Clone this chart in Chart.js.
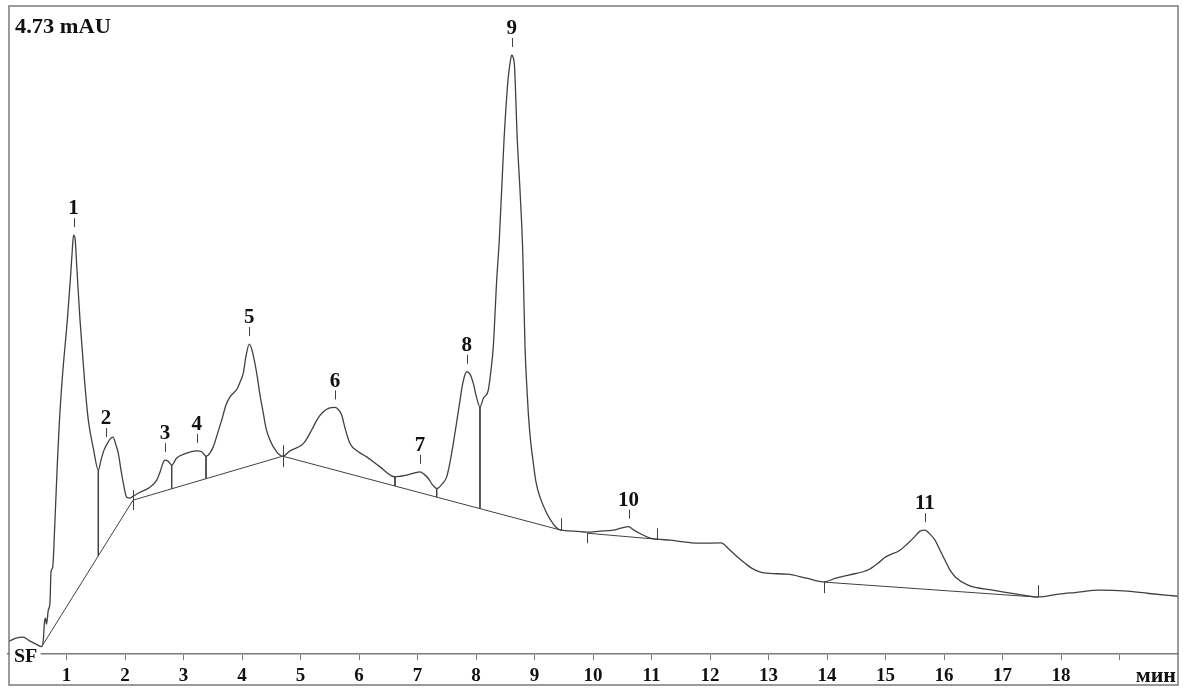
<!DOCTYPE html>
<html>
<head>
<meta charset="utf-8">
<script src="https://cdn.jsdelivr.net/npm/chart.js@4.4.0/dist/chart.umd.min.js"></script>
<style>
  html, body { margin: 0; padding: 0; background: #fff; }
  #wrap { width: 1184px; height: 691px; position: relative; }
</style>
</head>
<body>
<div id="wrap"><canvas id="grafico"></canvas></div>
<script>
// señal del detector: tiempo (min) y absorbancia (mAU)
const tiempos = [
  0.017, 0.137, 0.256, 0.376, 0.479, 0.576, 0.603, 0.624, 0.641, 0.658,
  0.689, 0.718, 0.735, 0.764, 0.803, 0.846, 0.880, 0.932, 1.014, 1.065,
  1.099, 1.120, 1.145, 1.179, 1.231, 1.308, 1.373, 1.458, 1.544, 1.590,
  1.641, 1.692, 1.744, 1.795, 1.846, 1.885, 1.932, 1.971, 2.029, 2.085,
  2.137, 2.256, 2.427, 2.542, 2.598, 2.655, 2.684, 2.735, 2.798, 2.883,
  3.055, 3.226, 3.311, 3.385, 3.509, 3.573, 3.653, 3.726, 3.795, 3.920,
  3.966, 4.022, 4.068, 4.125, 4.171, 4.251, 4.308, 4.364, 4.410, 4.479,
  4.593, 4.696, 4.821, 5.021, 5.094, 5.162, 5.219, 5.299, 5.390, 5.487,
  5.590, 5.641, 5.704, 5.761, 5.846, 5.988, 6.132, 6.359, 6.615, 6.815,
  6.940, 7.043, 7.111, 7.185, 7.248, 7.328, 7.419, 7.499, 7.556, 7.612,
  7.675, 7.727, 7.778, 7.841, 7.897, 7.954, 8.000, 8.068, 8.128, 8.210,
  8.256, 8.295, 8.354, 8.398, 8.479, 8.547, 8.590, 8.610, 8.632, 8.658,
  8.706, 8.752, 8.798, 8.815, 8.838, 8.872, 8.894, 8.932, 8.980, 9.026,
  9.094, 9.209, 9.299, 9.368, 9.453, 9.692, 9.897, 10.120, 10.342, 10.479,
  10.607, 10.701, 10.803, 10.974, 11.094, 11.316, 11.556, 11.829, 12.188, 12.325,
  12.470, 12.598, 12.718, 12.923, 13.316, 13.667, 13.949, 14.154, 14.369, 14.718,
  14.872, 15.003, 15.248, 15.385, 15.496, 15.590, 15.672, 15.761, 15.846, 15.932,
  16.017, 16.103, 16.198, 16.410, 16.832, 17.248, 17.607, 17.957, 18.239, 18.661,
  19.077, 19.504, 20.000
];
const senal = [
  0.095, 0.117, 0.124, 0.095, 0.073, 0.055, 0.102, 0.234, 0.263, 0.219,
  0.321, 0.380, 0.599, 0.635, 0.978, 1.416, 1.708, 2.036, 2.438, 2.730,
  2.949, 3.058, 3.036, 2.803, 2.438, 2.000, 1.708, 1.504, 1.343, 1.416,
  1.489, 1.533, 1.569, 1.584, 1.526, 1.467, 1.343, 1.248, 1.146, 1.139,
  1.153, 1.182, 1.219, 1.270, 1.328, 1.401, 1.416, 1.409, 1.380, 1.431,
  1.467, 1.484, 1.477, 1.445, 1.513, 1.599, 1.708, 1.818, 1.878, 1.939,
  1.985, 2.051, 2.175, 2.263, 2.219, 2.051, 1.891, 1.759, 1.650, 1.562,
  1.477, 1.445, 1.484, 1.526, 1.562, 1.613, 1.659, 1.723, 1.769, 1.796,
  1.801, 1.788, 1.745, 1.650, 1.538, 1.477, 1.440, 1.367, 1.294, 1.307,
  1.321, 1.331, 1.314, 1.282, 1.241, 1.209, 1.241, 1.294, 1.401, 1.538,
  1.708, 1.854, 1.985, 2.061, 2.044, 1.976, 1.891, 1.806, 1.869, 1.927,
  2.073, 2.241, 2.730, 3.022, 3.752, 4.190, 4.336, 4.372, 4.358, 4.292,
  3.752, 3.387, 2.949, 2.657, 2.241, 1.927, 1.759, 1.562, 1.394, 1.255,
  1.146, 1.029, 0.964, 0.927, 0.905, 0.898, 0.891, 0.898, 0.905, 0.920,
  0.931, 0.905, 0.881, 0.847, 0.839, 0.832, 0.820, 0.810, 0.812, 0.766,
  0.710, 0.664, 0.626, 0.593, 0.584, 0.553, 0.528, 0.555, 0.577, 0.618,
  0.664, 0.710, 0.759, 0.810, 0.856, 0.898, 0.905, 0.876, 0.832, 0.759,
  0.686, 0.613, 0.562, 0.504, 0.467, 0.438, 0.418, 0.438, 0.450, 0.467,
  0.462, 0.443, 0.423
];

// línea base de integración (null = corte entre tramos)
const baseT = [0.576, 2.137, 4.696, 9.453, 9.650, 9.897, 11.094, 12.500, 13.949, 17.607];
const baseV = [0.055, 1.124, 1.445, 0.905, null, 0.883, 0.839, null, 0.526, 0.416];

// separaciones verticales entre picos solapados
const cortesT = [1.544, 2.798, 3.385, 6.615, 7.328, 8.068];

// eventos de integración sobre la línea base
const marcasT = [2.137, 4.696, 9.453, 9.897, 11.094, 13.949, 17.607];

// picos numerados
const picosNombre = ['1', '2', '3', '4', '5', '6', '7', '8', '9', '10', '11'];
const picosT = [1.120, 1.675, 2.684, 3.226, 4.125, 5.590, 7.043, 7.841, 8.610, 10.607, 15.672];
const picosV = [3.058, 1.526, 1.416, 1.484, 2.263, 1.801, 1.331, 2.061, 4.372, 0.931, 0.905];

const ticksX = [1, 2, 3, 4, 5, 6, 7, 8, 9, 10, 11, 12, 13, 14, 15, 16, 17, 18, 19];
const escalaMax = 4.73;

function interp(xs, ys, t) {
  for (let i = 0; i < xs.length - 1; i++) {
    if (ys[i] == null || ys[i + 1] == null) continue;
    if (t >= xs[i] && t <= xs[i + 1]) {
      return ys[i] + (ys[i + 1] - ys[i]) * (t - xs[i]) / (xs[i + 1] - xs[i]);
    }
  }
  return null;
}

const puntosSenal = tiempos.map((t, i) => ({ x: t, y: senal[i] }));
const puntosBase = baseT.map((t, i) => ({ x: t, y: baseV[i] }));
const puntosCortes = [];
cortesT.forEach(t => {
  puntosCortes.push({ x: t, y: interp(tiempos, senal, t) });
  puntosCortes.push({ x: t, y: interp(baseT, baseV, t) });
  puntosCortes.push({ x: t, y: null });
});

const COLOR_LINEA = '#404040';
const COLOR_MARCO = '#7a7a7a';
const FUENTE = '"Liberation Serif", "Times New Roman", serif';

// largo de cada marca de evento (px arriba, px abajo)
const marcasForma = [[10, 10], [11, 11], [12, 0], [0, 10], [11, 1], [0, 11], [12, 0]];

// texto en negrita algo ensanchado, como en la impresión del integrador
function texto(ctx, str, x, y, size, align, ancho) {
  ctx.save();
  ctx.font = 'bold ' + size + 'px ' + FUENTE;
  ctx.textAlign = align;
  ctx.translate(x, y);
  ctx.scale(ancho, 1);
  ctx.fillText(str, 0, 0);
  ctx.restore();
}

const extras = {
  id: 'extras',
  afterDatasetsDraw(chart) {
    const ctx = chart.ctx;
    const x = chart.scales.x;
    const y = chart.scales.y;
    const area = chart.chartArea;

    ctx.save();
    ctx.strokeStyle = COLOR_LINEA;
    ctx.lineWidth = 1;

    // marcas de eventos
    marcasT.forEach((t, i) => {
      const px = Math.round(x.getPixelForValue(t)) + 0.5;
      const py = y.getPixelForValue(interp(baseT, baseV, t));
      ctx.beginPath();
      ctx.moveTo(px, py - marcasForma[i][0]);
      ctx.lineTo(px, py + marcasForma[i][1]);
      ctx.stroke();
    });

    // numeración de picos
    ctx.fillStyle = '#111';
    ctx.textBaseline = 'middle';
    picosNombre.forEach((nombre, i) => {
      const px = x.getPixelForValue(picosT[i]);
      const py = y.getPixelForValue(picosV[i]);
      texto(ctx, nombre, px, py - 26, 20, 'center', 1.05);
      ctx.beginPath();
      ctx.moveTo(Math.round(px) + 0.5, py - 17);
      ctx.lineTo(Math.round(px) + 0.5, py - 8);
      ctx.stroke();
    });

    // marco
    ctx.strokeStyle = COLOR_MARCO;
    ctx.lineWidth = 1.5;
    ctx.beginPath();
    ctx.moveTo(area.left + 1, area.top);
    ctx.lineTo(area.right, area.top);
    ctx.lineTo(area.right, 685);
    ctx.lineTo(area.left + 1, 685);
    ctx.closePath();
    ctx.stroke();

    // el eje arranca en el punto de inyección; delante va el rótulo SF
    ctx.fillStyle = '#fff';
    ctx.fillRect(area.left + 2, area.bottom - 3, x.getPixelForValue(baseT[0]) - area.left - 3, 7);
    ctx.fillStyle = '#111';

    ctx.textBaseline = 'alphabetic';
    texto(ctx, '4.73 mAU', 15, 33, 20, 'left', 1.12);
    texto(ctx, 'SF', 14, 662, 19, 'left', 1.05);
    texto(ctx, 'мин', 1176, 682, 22, 'right', 1);
    ctx.restore();
  }
};

new Chart(document.getElementById('grafico'), {
  type: 'line',
  data: {
    datasets: [
      {
        label: 'Señal',
        data: puntosSenal,
        borderColor: COLOR_LINEA,
        borderWidth: 1.3,
        pointRadius: 0,
        cubicInterpolationMode: 'monotone'
      },
      {
        label: 'Línea base',
        data: puntosBase,
        borderColor: COLOR_LINEA,
        borderWidth: 1,
        pointRadius: 0,
        spanGaps: false
      },
      {
        label: 'Cortes',
        data: puntosCortes,
        borderColor: COLOR_LINEA,
        borderWidth: 1,
        pointRadius: 0,
        spanGaps: false
      }
    ]
  },
  options: {
    responsive: true,
    maintainAspectRatio: false,
    animation: false,
    layout: {
      padding: { left: 8, right: 6, top: 6, bottom: 0 }
    },
    plugins: {
      legend: { display: false },
      tooltip: { enabled: false }
    },
    scales: {
      x: {
        type: 'linear',
        min: 0,
        max: 20,
        afterBuildTicks(axis) {
          axis.ticks = ticksX.map(v => ({ value: v }));
        },
        grid: {
          drawOnChartArea: false,
          drawTicks: true,
          tickLength: 6,
          color: COLOR_MARCO
        },
        border: { display: true, color: COLOR_MARCO, width: 1.5 },
        ticks: {
          autoSkip: false,
          maxRotation: 0,
          padding: 4,
          color: '#111',
          font: { family: FUENTE, size: 19, weight: 'bold' },
          callback: v => (v === 19 ? '' : v)
        }
      },
      y: {
        display: false,
        min: 0,
        max: escalaMax
      }
    }
  },
  plugins: [extras]
});
</script>
</body>
</html>
